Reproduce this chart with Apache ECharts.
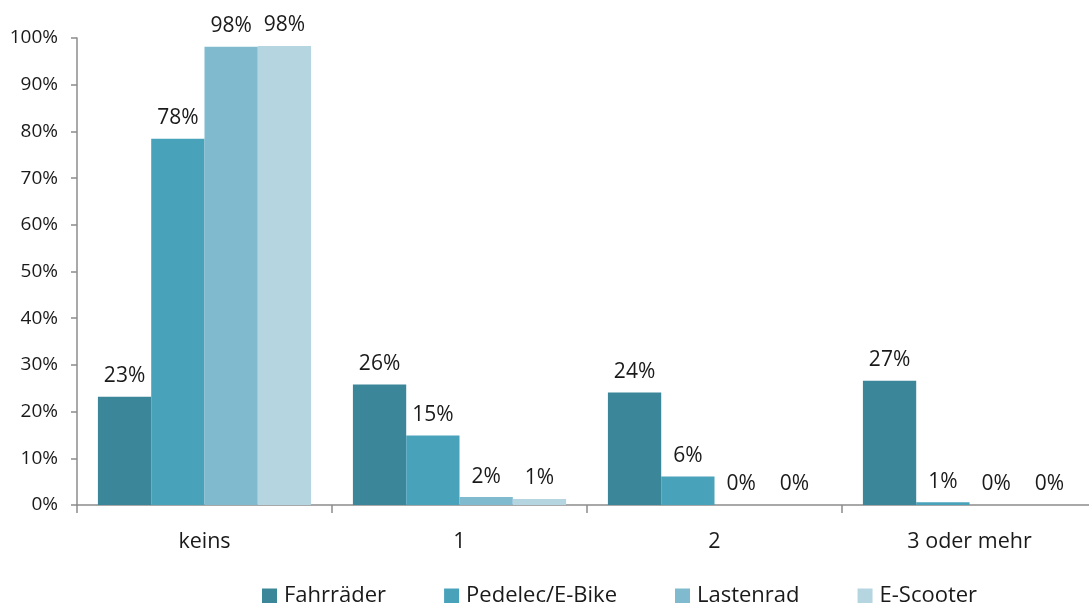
<!DOCTYPE html>
<html><head><meta charset="utf-8">
<script src="https://cdn.jsdelivr.net/npm/echarts@6/dist/echarts.min.js"></script>
<style>html,body{margin:0;padding:0;background:#fff}#c{width:1089px;height:603px}</style>
</head><body><div id="c"></div>
<script>
const categories = ['keins', '1', '2', '3 oder mehr'];
const seriesNames = ['Fahrräder', 'Pedelec/E-Bike', 'Lastenrad', 'E-Scooter'];
const fahrraeder = [23.2, 25.8, 24.1, 26.6];
const pedelec = [78.4, 14.9, 6.1, 0.6];
const lastenrad = [98.1, 1.7, 0, 0];
const eScooter = [98.3, 1.3, 0, 0];
const yTicks = [0, 10, 20, 30, 40, 50, 60, 70, 80, 90, 100];
const colors = ['#3b8699', '#48a2ba', '#7fbacf', '#b5d5e0'];
const values = [fahrraeder, pedelec, lastenrad, eScooter];
const font = '"Open Sans", Lato, sans-serif';

const chart = echarts.init(document.getElementById('c'));
chart.setOption({
  animation: false,
  textStyle: {fontFamily: font},
  grid: {left: 77, top: 38, width: 1020, height: 467, containLabel: false, outerBoundsMode: 'none'},
  legend: {
    left: 257, top: 580, itemWidth: 15, itemHeight: 15, itemGap: 58,
    icon: 'rect',
    textStyle: {fontSize: 22, color: '#1a1a1a', fontFamily: font, padding: [0, 0, 0, 2]},
    data: seriesNames
  },
  xAxis: {
    type: 'category', data: categories,
    axisLine: {lineStyle: {color: '#8c8c8c', width: 1.5}},
    axisTick: {show: true, length: 8, lineStyle: {color: '#8c8c8c', width: 1.5}},
    axisLabel: {fontSize: 21.5, color: '#1a1a1a', margin: 26, fontFamily: font}
  },
  yAxis: {
    type: 'value', min: yTicks[0], max: yTicks[yTicks.length - 1], interval: 10,
    splitLine: {show: false},
    axisLine: {show: true, lineStyle: {color: '#8c8c8c', width: 1.5}},
    axisTick: {show: true, length: 6, lineStyle: {color: '#8c8c8c', width: 1.5}},
    axisLabel: {fontSize: 19, color: '#1a1a1a', margin: 19, formatter: '{value}%', fontFamily: font}
  },
  series: seriesNames.map((n, i) => ({
    name: n, type: 'bar', data: values[i],
    barGap: '0%', barCategoryGap: '16.4%',
    itemStyle: {color: colors[i]},
    label: {
      show: true, position: 'top', distance: 10,
      fontSize: 21, color: '#1a1a1a', fontFamily: font,
      formatter: p => Math.round(p.value) + '%'
    }
  }))
});
</script></body></html>
